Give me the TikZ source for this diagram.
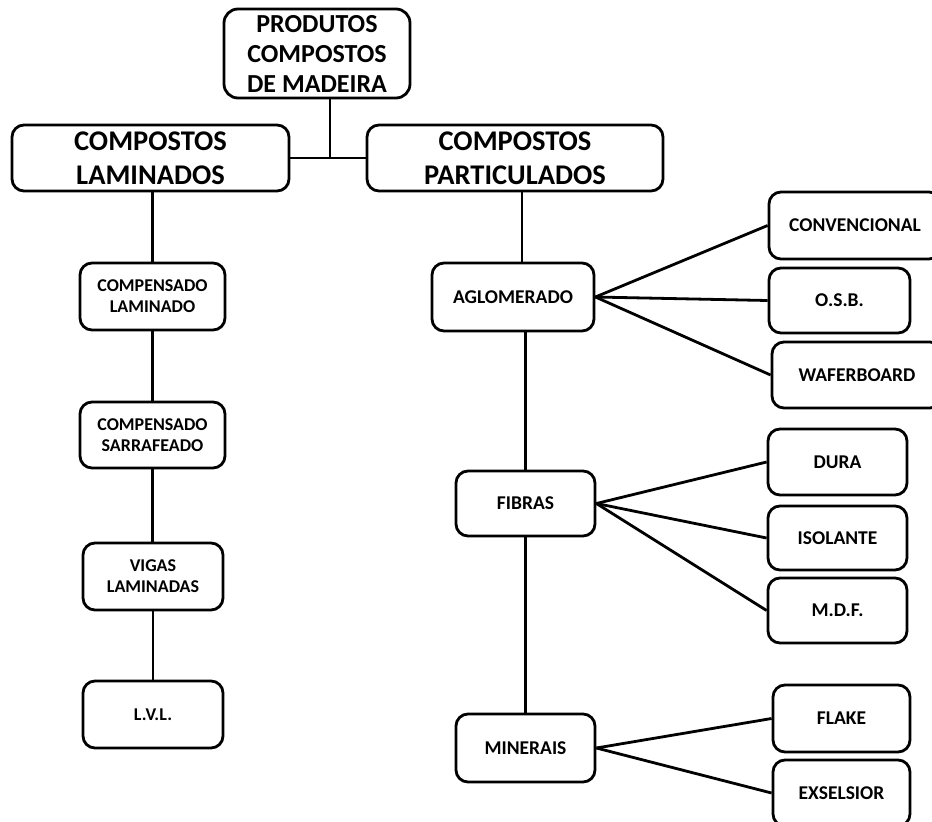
\documentclass[tikz,border=0pt]{standalone}
\usepackage{fontspec}
\setmainfont{Carlito}
\tikzset{
  box/.style={draw, line width=2.8pt, rounded corners=12pt, align=center, inner sep=0pt, fill=white},
  big/.style={box, font=\bfseries\fontsize{28.5}{34}\selectfont},
  top/.style={box, font=\bfseries\fontsize{26}{30}\selectfont, rounded corners=14pt},
  small/.style={box, font=\bfseries\fontsize{18}{21}\selectfont},
  leaf/.style={box, font=\bfseries\fontsize{19.5}{22}\selectfont},
  link/.style={line width=2.8pt},
}
\begin{document}
\begin{tikzpicture}[x=1pt,y=-1pt]
\clip (0,0) rectangle (932,822);
\fill[white] (0,0) rectangle (932,822);
% nodes
\node[top, minimum width=186pt, minimum height=89pt] (prod) at (317,53.5) {PRODUTOS\\COMPOSTOS\\DE MADEIRA};
\node[big, minimum width=277pt, minimum height=66pt] (lam) at (150.5,158) {COMPOSTOS\\LAMINADOS};
\node[big, minimum width=296pt, minimum height=66pt] (part) at (515,158) {COMPOSTOS\\PARTICULADOS};
\node[small, minimum width=145pt, minimum height=67pt] (cl) at (152.5,296.5) {COMPENSADO\\LAMINADO};
\node[small, minimum width=145pt, minimum height=66pt] (cs) at (152.5,435) {COMPENSADO\\SARRAFEADO};
\node[small, minimum width=140pt, minimum height=67pt] (vl) at (153,576.5) {VIGAS\\LAMINADAS};
\node[small, minimum width=140pt, minimum height=67pt] (lvl) at (153,714.5) {L.V.L.};
\node[leaf, minimum width=162pt, minimum height=68pt] (agl) at (513,297) {AGLOMERADO};
\node[leaf, minimum width=139pt, minimum height=65pt] (fib) at (525.5,503.5) {FIBRAS};
\node[leaf, minimum width=139pt, minimum height=68pt] (min) at (525.5,748) {MINERAIS};
\node[leaf, minimum width=172pt, minimum height=67pt] (conv) at (855,225.5) {CONVENCIONAL};
\node[leaf, minimum width=141pt, minimum height=65pt] (osb) at (839.5,300.5) {O.S.B.};
\node[leaf, minimum width=170pt, minimum height=66pt] (waf) at (857,375) {WAFERBOARD};
\node[leaf, minimum width=139pt, minimum height=66pt] (dura) at (837.5,462) {DURA};
\node[leaf, minimum width=139pt, minimum height=64pt] (iso) at (837.5,538) {ISOLANTE};
\node[leaf, minimum width=139pt, minimum height=65pt] (mdf) at (837.5,610.5) {M.D.F.};
\node[leaf, minimum width=137pt, minimum height=67pt] (flake) at (841.5,718.5) {FLAKE};
\node[leaf, minimum width=137pt, minimum height=66pt] (exs) at (841.5,793) {EXSELSIOR};
% helper coordinates
\coordinate (jx) at (330,158);
\coordinate (px) at (522,0);
% connectors
\draw[link] (prod.south -| jx) -- (jx);
\draw[link] (lam.east) -- (part.west);
\draw[link] (cl.north |- lam.south) -- (cl.north);
\draw[link] (cl.south) -- (cs.north);
\draw[link] (cs.south) -- (vl.north -| cs.south);
\draw[link] (vl.south) -- (lvl.north);
\draw[link] (part.south -| px) -- (agl.north -| px);
\draw[link] (fib.north |- agl.south) -- (fib.north);
\draw[link] (fib.south) -- (min.north);
\draw[link] (agl.east) -- (conv.west);
\draw[link] (agl.east) -- (osb.west);
\draw[link] (agl.east) -- (waf.west);
\draw[link] (fib.east) -- (dura.west);
\draw[link] (fib.east) -- (iso.west);
\draw[link] (fib.east) -- (mdf.west);
\draw[link] (min.east) -- (flake.west);
\draw[link] (min.east) -- (exs.west);
\end{tikzpicture}
\end{document}
